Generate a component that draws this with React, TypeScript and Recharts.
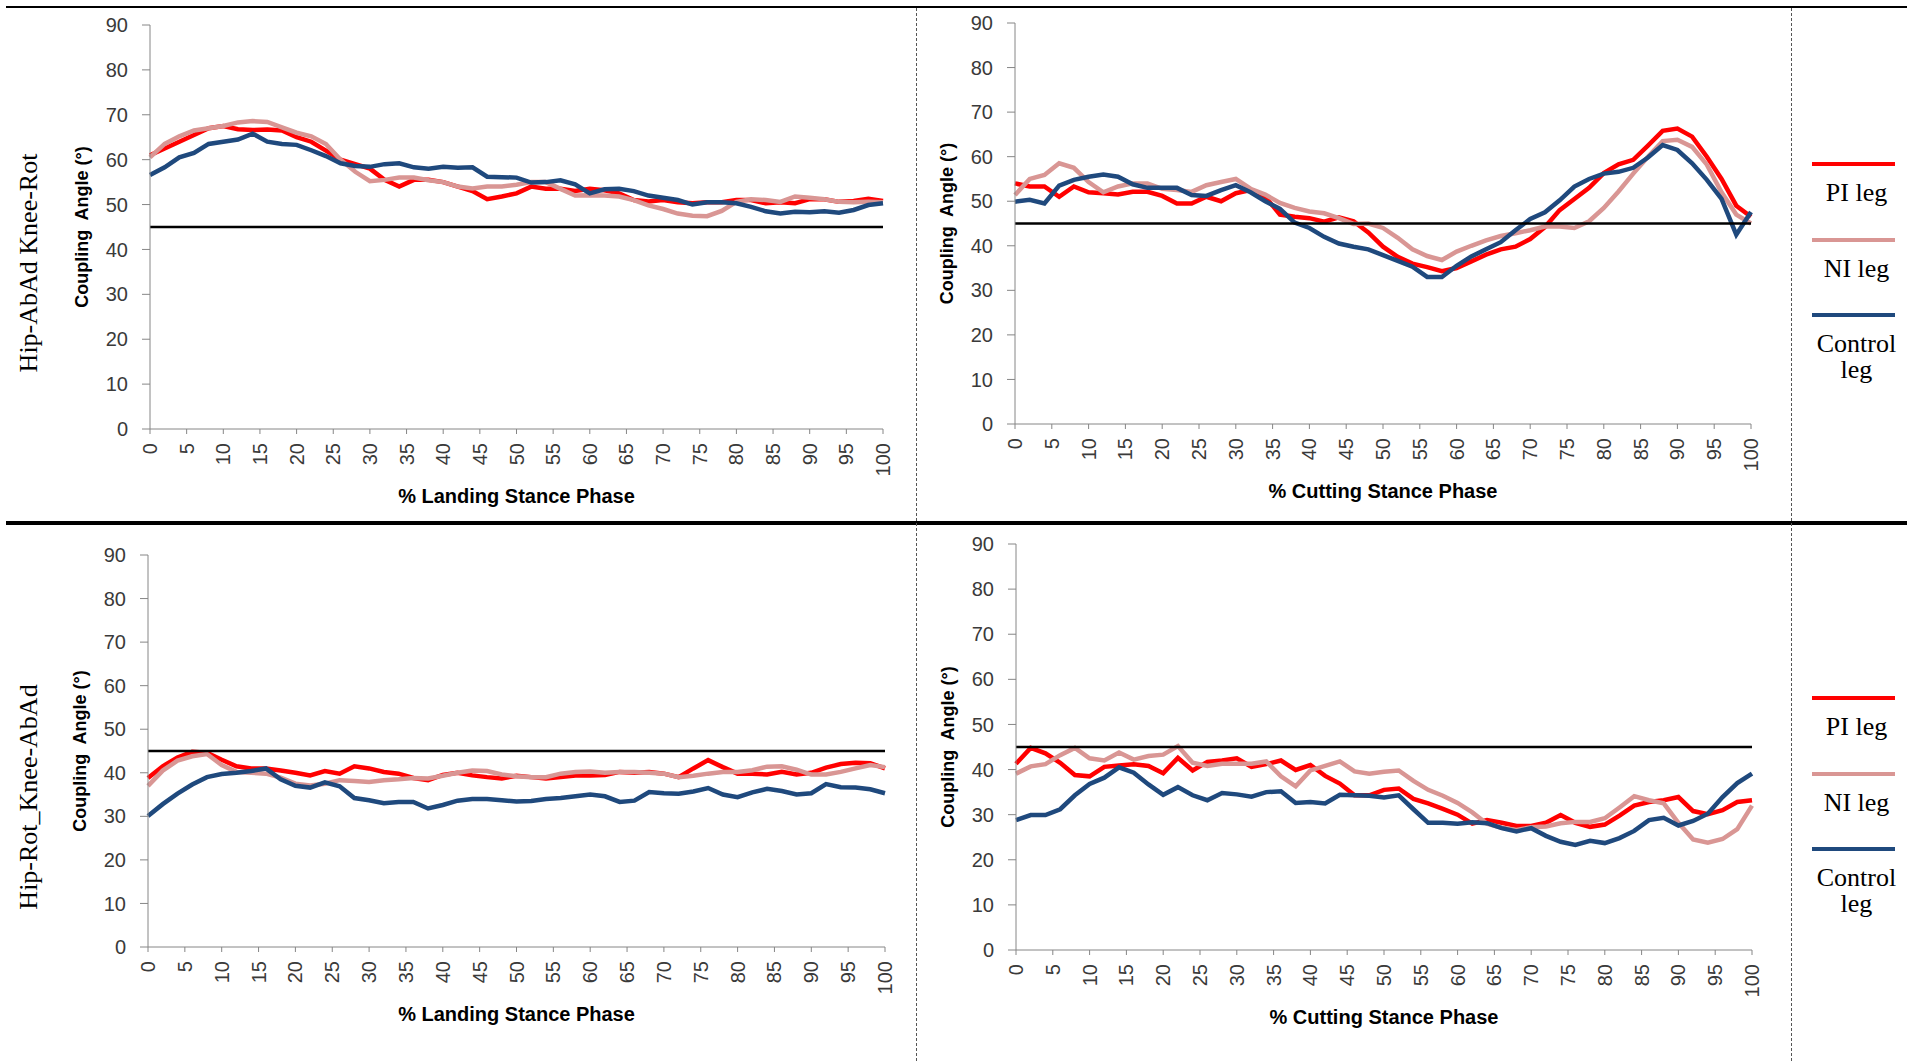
import { LineChart, Line, XAxis, YAxis } from 'recharts';

const PHASE = [0, 2, 4, 6, 8, 10, 12, 14, 16, 18, 20, 22, 24, 26, 28, 30, 32, 34, 36, 38, 40, 42, 44, 46, 48, 50, 52, 54, 56, 58, 60, 62, 64, 66, 68, 70, 72, 74, 76, 78, 80, 82, 84, 86, 88, 90, 92, 94, 96, 98, 100];
const X_TICKS = [0, 5, 10, 15, 20, 25, 30, 35, 40, 45, 50, 55, 60, 65, 70, 75, 80, 85, 90, 95, 100];
const Y_TICKS = [0, 10, 20, 30, 40, 50, 60, 70, 80, 90];
const THRESHOLD = 45;

// Hip-AbAd Knee-Rot, landing
const ABAD_LAND_PI = [61, 62.5, 64, 65.5, 67, 67.5, 66.8, 66.6, 66.7, 66.5, 65, 64, 62, 60, 59, 58, 55.5, 54, 55.5, 55.5, 55, 54, 53, 51.2, 51.8, 52.5, 54, 53.5, 53.5, 53, 53.5, 53.2, 52.5, 51, 50.7, 51, 50.5, 50.3, 50.5, 50.5, 51, 51, 50.3, 50.5, 50.3, 51.2, 51.2, 50.6, 50.8, 51.3, 50.8];
const ABAD_LAND_NI = [60.5, 63.5, 65.2, 66.5, 67, 67.5, 68.3, 68.6, 68.4, 67.2, 66, 65.2, 63.5, 60, 57.3, 55.2, 55.5, 56, 56, 55.4, 55, 54, 53.6, 54, 54, 54.4, 55, 55, 53.5, 52, 52.1, 52, 51.8, 51, 49.8, 49, 48, 47.5, 47.4, 48.6, 50.6, 51.2, 51, 50.6, 51.8, 51.5, 51.2, 50.6, 50.5, 50.6, 50.5];
const ABAD_LAND_CTRL = [56.6, 58.3, 60.5, 61.5, 63.5, 64, 64.5, 65.8, 64, 63.5, 63.3, 62.1, 60.8, 59.2, 58.6, 58.4, 59, 59.2, 58.3, 58, 58.4, 58.2, 58.3, 56.2, 56.1, 56, 54.9, 55, 55.4, 54.5, 52.5, 53.4, 53.5, 53, 52, 51.5, 51, 50, 50.5, 50.5, 50.3, 49.5, 48.5, 48, 48.4, 48.3, 48.5, 48.2, 48.8, 49.9, 50.3];

// Hip-AbAd Knee-Rot, cutting
const ABAD_CUT_PI = [54, 53.3, 53.3, 51, 53.3, 52, 51.8, 51.5, 52.1, 52.1, 51.2, 49.5, 49.5, 51, 50, 51.8, 52.5, 51, 47, 46.5, 46.2, 45.4, 46.4, 45.5, 43, 39.8, 37.5, 36, 35.2, 34.3, 35, 36.5, 38, 39.2, 39.8, 41.5, 44.2, 48, 50.5, 53, 56.3, 58.3, 59.3, 62.5, 65.8, 66.3, 64.5, 60, 55, 49, 46.5];
const ABAD_CUT_NI = [51.4, 55, 55.9, 58.5, 57.5, 54.3, 52, 53.3, 54, 54, 52.8, 52.5, 52.1, 53.6, 54.3, 55, 52.8, 51.5, 49.6, 48.5, 47.7, 47.3, 46.2, 44.9, 45, 44, 41.8, 39.2, 37.7, 36.8, 38.7, 40, 41.2, 42.2, 42.8, 43.5, 44.3, 44.3, 44, 45.5, 48.5, 52.2, 56.2, 60, 63.5, 63.8, 62.2, 58.2, 52, 47, 45];
const ABAD_CUT_CTRL = [49.9, 50.3, 49.5, 53.5, 54.8, 55.5, 56, 55.5, 53.8, 53, 53, 53, 51.4, 51.2, 52.5, 53.6, 52, 50, 48.3, 45.2, 44, 42, 40.5, 39.8, 39.2, 37.9, 36.6, 35.3, 33, 33, 35.5, 37.6, 39.2, 40.8, 43.5, 46, 47.5, 50.2, 53.3, 55, 56.2, 56.6, 57.5, 59.8, 62.6, 61.5, 58.5, 54.8, 50.5, 42.5, 47.6];

// Hip-Rot_Knee-AbAd, landing
const ROT_LAND_PI = [38.8, 41.5, 43.5, 44.8, 44.6, 43, 41.5, 41, 41, 40.5, 40, 39.4, 40.4, 39.8, 41.5, 41, 40.2, 39.8, 38.8, 38.3, 39.5, 40, 39.4, 39, 38.7, 39.3, 39, 38.7, 39, 39.4, 39.4, 39.5, 40.2, 40, 40.2, 39.8, 39, 41, 42.9, 41.3, 39.8, 39.8, 39.6, 40.2, 39.6, 40, 41.2, 42, 42.3, 42.2, 41];
const ROT_LAND_NI = [37, 40.5, 42.8, 43.8, 44.3, 41.8, 40.2, 40, 39.8, 38.9, 37.5, 37.1, 37.5, 38.3, 38.1, 37.9, 38.3, 38.5, 38.8, 38.7, 39.3, 40, 40.5, 40.4, 39.6, 39.2, 39, 39, 39.8, 40.2, 40.3, 40, 40.2, 40.2, 40, 39.8, 39, 39.3, 39.8, 40.2, 40.2, 40.6, 41.4, 41.5, 40.7, 39.6, 39.6, 40.2, 41, 41.8, 41.3];
const ROT_LAND_CTRL = [30.1, 32.8, 35.2, 37.3, 39, 39.7, 40, 40.4, 41, 38.5, 37, 36.6, 37.8, 36.9, 34.2, 33.7, 33, 33.3, 33.3, 31.8, 32.6, 33.6, 34, 34, 33.7, 33.4, 33.5, 34, 34.2, 34.6, 35, 34.6, 33.3, 33.6, 35.6, 35.3, 35.2, 35.7, 36.5, 35, 34.4, 35.5, 36.3, 35.8, 35, 35.3, 37.4, 36.7, 36.6, 36.2, 35.3];

// Hip-Rot_Knee-AbAd, cutting
const ROT_CUT_PI = [41.3, 44.8, 43.6, 41.5, 38.8, 38.5, 40.6, 40.9, 41.2, 40.8, 39.2, 42.6, 39.8, 41.7, 42, 42.5, 40.6, 41.2, 42, 39.9, 41, 38.6, 36.9, 34.3, 34.3, 35.5, 35.8, 33.5, 32.5, 31.3, 30, 28, 28.8, 28.2, 27.5, 27.5, 28.2, 29.9, 28.2, 27.3, 27.8, 29.8, 32, 32.8, 33.2, 33.9, 30.8, 30.1, 31, 32.8, 33.2];
const ROT_CUT_NI = [39.1, 40.7, 41.2, 43.2, 44.8, 42.5, 42, 43.8, 42.2, 43, 43.3, 45.2, 41.5, 40.8, 41.3, 41.3, 41.3, 41.8, 38.5, 36.3, 39.8, 40.8, 41.8, 39.6, 39.1, 39.5, 39.8, 37.5, 35.5, 34.2, 32.6, 30.5, 28, 27.1, 26.6, 27.2, 27.4, 28.1, 28.4, 28.4, 29.2, 31.6, 34.1, 33.2, 32.5, 28.2, 24.5, 23.8, 24.6, 26.8, 32];
const ROT_CUT_CTRL = [28.8, 29.9, 29.9, 31.2, 34.3, 36.8, 38.2, 40.5, 39.3, 36.7, 34.4, 36.1, 34.3, 33.2, 34.8, 34.5, 34, 35, 35.2, 32.6, 32.8, 32.5, 34.4, 34.3, 34.2, 33.8, 34.3, 31.2, 28.2, 28.2, 28, 28.3, 28.1, 27, 26.3, 27, 25.3, 24, 23.3, 24.2, 23.7, 24.8, 26.4, 28.8, 29.3, 27.6, 28.6, 30.2, 33.9, 37, 39.1];

const SERIES = [
  { key: 'pi', name: 'PI leg', color: '#FF0000' },
  { key: 'ni', name: 'NI leg', color: '#D99694' },
  { key: 'ctrl', name: 'Control leg', color: '#1F497D' },
];

const SANS = '"Liberation Sans", Arial, sans-serif';
const SERIF = '"Liberation Serif", "Times New Roman", serif';

function buildRows(pi: number[], ni: number[], ctrl: number[]) {
  return PHASE.map((phase, i) => ({ phase, pi: pi[i], ni: ni[i], ctrl: ctrl[i], ref: THRESHOLD }));
}

function PhaseTick(props: any) {
  const { x, y, payload } = props;
  return (
    <g transform={`translate(${x},${y})`}>
      <text transform="rotate(-90)" textAnchor="end" dy="0.35em" fontSize={20} fill="#3a3a3a" fontFamily={SANS}>
        {payload.value}
      </text>
    </g>
  );
}

interface PanelProps {
  left: number;
  top: number;
  w: number;
  h: number;
  rows: any[];
  xTitle: string;
}

// left/top/w/h describe the plot area in page pixels
function Panel({ left, top, w, h, rows, xTitle }: PanelProps) {
  return (
    <div style={{ position: 'absolute', left: left - 130, top: top - 20 }}>
      <LineChart width={w + 160} height={h + 115} data={rows} margin={{ top: 20, right: 30, left: 50, bottom: 15 }}>
        <XAxis
          dataKey="phase"
          type="number"
          domain={[0, 100]}
          ticks={X_TICKS}
          interval={0}
          height={80}
          stroke="#868686"
          tickSize={5}
          tickMargin={9}
          tick={<PhaseTick />}
          label={{ value: xTitle, position: 'insideBottom', offset: 6, fontSize: 20, fontWeight: 'bold', fill: '#000', fontFamily: SANS }}
        />
        <YAxis
          type="number"
          domain={[0, 90]}
          ticks={Y_TICKS}
          interval={0}
          width={80}
          stroke="#868686"
          tickSize={8}
          tickMargin={14}
          tick={{ fontSize: 20, fill: '#3a3a3a', fontFamily: SANS }}
          label={{ value: 'Coupling\u00A0 Angle (°)', angle: -90, position: 'insideLeft', offset: 12, fontSize: 18, fontWeight: 'bold', fill: '#000', fontFamily: SANS, style: { textAnchor: 'middle' } }}
        />
        {SERIES.map((s) => (
          <Line key={s.key} dataKey={s.key} name={s.name} stroke={s.color} strokeWidth={4.5} dot={false} type="linear" isAnimationActive={false} />
        ))}
        <Line dataKey="ref" stroke="#000" strokeWidth={2.5} dot={false} type="linear" isAnimationActive={false} />
      </LineChart>
    </div>
  );
}

function SideLegend({ top }: { top: number }) {
  const textTops = [16, 92, 167];
  return (
    <>
      {SERIES.map((s, i) => (
        <div key={s.key}>
          <div style={{ position: 'absolute', left: 1812, top: top + i * 75.5 - 2, width: 83, height: 4, background: s.color }} />
          <div
            style={{
              position: 'absolute',
              left: 1803,
              width: 107,
              top: top + textTops[i],
              textAlign: 'center',
              fontFamily: SERIF,
              fontSize: 26,
              lineHeight: '26px',
              color: '#000',
            }}
          >
            {s.name === 'Control leg' ? (
              <>
                Control
                <br />
                leg
              </>
            ) : (
              s.name
            )}
          </div>
        </div>
      ))}
    </>
  );
}

function RowLabel({ y, text }: { y: number; text: string }) {
  return (
    <div
      style={{
        position: 'absolute',
        left: 29,
        top: y,
        transform: 'translate(-50%, -50%) rotate(-90deg)',
        whiteSpace: 'nowrap',
        fontFamily: SERIF,
        fontSize: 26,
        color: '#000',
      }}
    >
      {text}
    </div>
  );
}

export default function App() {
  return (
    <div style={{ position: 'absolute', left: 0, top: 0, width: 1907, height: 1061, background: '#fff', overflow: 'hidden' }}>
      <div style={{ position: 'absolute', left: 6, top: 6, width: 1901, height: 2, background: '#000' }} />
      <div style={{ position: 'absolute', left: 6, top: 521, width: 1901, height: 4, background: '#000' }} />
      <div style={{ position: 'absolute', left: 916, top: 8, width: 0, height: 1053, borderLeft: '1px dashed #555' }} />
      <div style={{ position: 'absolute', left: 1791, top: 8, width: 0, height: 1053, borderLeft: '1px dashed #555' }} />

      <RowLabel y={263} text="Hip-AbAd Knee-Rot" />
      <RowLabel y={797} text="Hip-Rot_Knee-AbAd" />

      <Panel left={150} top={25} w={733} h={404} rows={buildRows(ABAD_LAND_PI, ABAD_LAND_NI, ABAD_LAND_CTRL)} xTitle="% Landing Stance Phase" />
      <Panel left={1015} top={23} w={736} h={401} rows={buildRows(ABAD_CUT_PI, ABAD_CUT_NI, ABAD_CUT_CTRL)} xTitle="% Cutting Stance Phase" />
      <Panel left={148} top={555} w={737} h={392} rows={buildRows(ROT_LAND_PI, ROT_LAND_NI, ROT_LAND_CTRL)} xTitle="% Landing Stance Phase" />
      <Panel left={1016} top={544} w={736} h={406} rows={buildRows(ROT_CUT_PI, ROT_CUT_NI, ROT_CUT_CTRL)} xTitle="% Cutting Stance Phase" />

      <SideLegend top={164} />
      <SideLegend top={698} />
    </div>
  );
}
